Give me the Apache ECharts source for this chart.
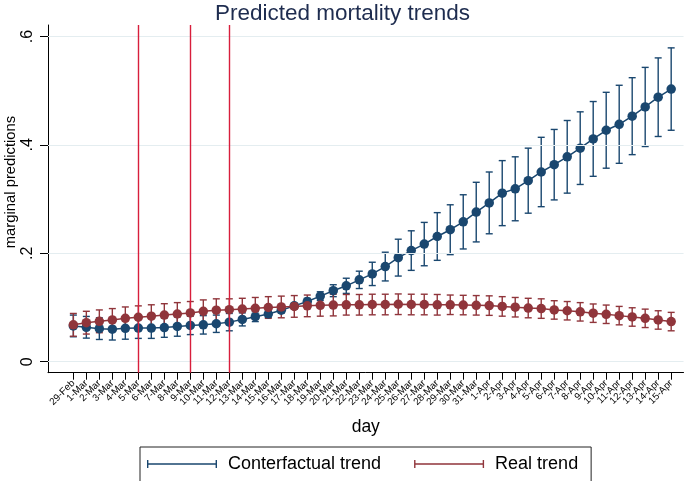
<!DOCTYPE html>
<html>
<head>
<meta charset="utf-8">
<script src="https://cdn.jsdelivr.net/npm/echarts@6/dist/echarts.min.js"></script>
<style>html,body{margin:0;padding:0;background:#fff}#c{width:685px;height:481px}</style>
</head>
<body>
<div id="c"></div>
<script>
const days = ['29-Feb','1-Mar','2-Mar','3-Mar','4-Mar','5-Mar','6-Mar','7-Mar','8-Mar','9-Mar','10-Mar','11-Mar','12-Mar','13-Mar','14-Mar','15-Mar','16-Mar','17-Mar','18-Mar','19-Mar','20-Mar','21-Mar','22-Mar','23-Mar','24-Mar','25-Mar','26-Mar','27-Mar','28-Mar','29-Mar','30-Mar','31-Mar','1-Apr','2-Apr','3-Apr','4-Apr','5-Apr','6-Apr','7-Apr','8-Apr','9-Apr','10-Apr','11-Apr','12-Apr','13-Apr','14-Apr','15-Apr'];

const counterTrend = [0.066,0.0635,0.061,0.060,0.0615,0.062,0.062,0.063,0.065,0.067,0.068,0.070,0.073,0.078,0.083,0.088,0.095,0.103,0.111,0.121,0.131,0.140,0.151,0.162,0.1755,0.192,0.205,0.217,0.231,0.2435,0.258,0.276,0.293,0.311,0.319,0.334,0.350,0.3635,0.378,0.394,0.411,0.427,0.438,0.453,0.470,0.488,0.503];
const counterLow = [0.046,0.0435,0.041,0.040,0.0415,0.043,0.043,0.045,0.047,0.050,0.051,0.054,0.057,0.066,0.074,0.082,0.090,0.098,0.105,0.113,0.120,0.126,0.135,0.1405,0.149,0.158,0.1685,0.177,0.187,0.1975,0.208,0.221,0.236,0.251,0.260,0.274,0.286,0.2985,0.311,0.327,0.342,0.357,0.366,0.382,0.397,0.4155,0.427];
const counterHigh = [0.086,0.0835,0.081,0.080,0.0815,0.081,0.081,0.081,0.083,0.084,0.085,0.086,0.089,0.090,0.092,0.094,0.100,0.108,0.117,0.129,0.142,0.154,0.167,0.1835,0.202,0.226,0.2415,0.257,0.275,0.2895,0.308,0.331,0.350,0.371,0.378,0.394,0.414,0.4285,0.445,0.461,0.480,0.497,0.510,0.524,0.543,0.5605,0.579];

const realTrend = [0.068,0.072,0.0745,0.077,0.080,0.082,0.084,0.086,0.088,0.090,0.093,0.095,0.096,0.097,0.0985,0.100,0.101,0.102,0.103,0.104,0.1045,0.105,0.105,0.1055,0.1055,0.106,0.1055,0.1055,0.105,0.105,0.1045,0.104,0.1035,0.102,0.1005,0.099,0.098,0.0955,0.094,0.092,0.0895,0.0875,0.085,0.0825,0.080,0.077,0.074];
const realLow = [0.047,0.051,0.0535,0.056,0.059,0.061,0.063,0.065,0.067,0.069,0.072,0.074,0.076,0.077,0.0785,0.080,0.081,0.082,0.083,0.084,0.0845,0.086,0.086,0.0865,0.0865,0.087,0.0865,0.0865,0.086,0.087,0.0865,0.086,0.0855,0.084,0.0825,0.081,0.080,0.0785,0.077,0.075,0.0725,0.0705,0.068,0.0655,0.063,0.060,0.057];
const realHigh = [0.089,0.093,0.0955,0.098,0.101,0.103,0.105,0.107,0.109,0.111,0.114,0.116,0.116,0.117,0.1185,0.120,0.121,0.122,0.123,0.124,0.1245,0.124,0.124,0.1245,0.1245,0.125,0.1245,0.1245,0.124,0.123,0.1225,0.122,0.1215,0.120,0.1185,0.117,0.116,0.1125,0.111,0.109,0.1065,0.1045,0.102,0.0995,0.097,0.094,0.091];

const policyDays = ['5-Mar','9-Mar','12-Mar'];
const yTickValues = [0, 0.2, 0.4, 0.6];
const yTickLabels = ['0', '.2', '.4', '.6'];

const BLUE = '#1a476f', RED = '#90353b', XLINE = '#d81e3c', GRID = '#e4edf0';
const FONT = 'Liberation Sans, Arial, sans-serif';
const X_MIN = -1.95, X_MAX = 46.95;

const idx = days.map((d, i) => i);
// empty guard labels at the axis ends so ECharts does not drop the first/last day label
const xLabelValues = [X_MIN + 0.05].concat(idx, [X_MAX - 0.05]);
function ciData(lo, hi) { return idx.map(i => [i, lo[i], hi[i]]); }
function ptData(v) { return idx.map(i => [i, v[i]]); }

function ciRender(color) {
  return function (params, api) {
    const x = api.value(0);
    const a = api.coord([x, api.value(1)]);
    const b = api.coord([x, api.value(2)]);
    const w = 3.5;
    const st = { stroke: color, lineWidth: 1.4 };
    return { type: 'group', children: [
      { type: 'line', shape: { x1: a[0], y1: a[1], x2: b[0], y2: b[1] }, style: st },
      { type: 'line', shape: { x1: a[0] - w, y1: a[1], x2: a[0] + w, y2: a[1] }, style: st },
      { type: 'line', shape: { x1: b[0] - w, y1: b[1], x2: b[0] + w, y2: b[1] }, style: st }
    ]};
  };
}

const legendIcon = 'path://M0,6.3L70,6.3L70,7.7L0,7.7Z M0,3L1.4,3L1.4,11L0,11Z M68.6,3L70,3L70,11L68.6,11Z';

const chart = echarts.init(document.getElementById('c'), null, { renderer: 'canvas' });
chart.setOption({
  animation: false,
  backgroundColor: '#ffffff',
  textStyle: { fontFamily: FONT },
  title: {
    text: 'Predicted mortality trends',
    left: 'center', top: -3,
    textStyle: { color: '#1e2c4f', fontSize: 22.5, fontWeight: 'normal', fontFamily: FONT }
  },
  grid: { left: 48, right: 0, top: 25, bottom: 108.3 },
  xAxis: {
    type: 'value', min: X_MIN, max: X_MAX,
    name: 'day', nameLocation: 'middle', nameGap: 45,
    nameTextStyle: { fontSize: 17.5, color: '#000', fontFamily: FONT },
    axisLine: { show: true, onZero: false, lineStyle: { color: '#000', width: 1 } },
    axisTick: { show: true, length: 7, customValues: idx, lineStyle: { color: '#000' } },
    axisLabel: { show: true, customValues: xLabelValues, rotate: 45, fontSize: 9.8, color: '#000', margin: 9,
      showMinLabel: true, showMaxLabel: true, hideOverlap: false,
      formatter: v => (Number.isInteger(v) ? days[v] : '') },
    splitLine: { show: false }
  },
  yAxis: {
    type: 'value', min: -0.0203, max: 0.6212,
    axisLine: { show: true, onZero: false, lineStyle: { color: '#000', width: 1 } },
    axisTick: { show: true, length: 8, customValues: yTickValues, lineStyle: { color: '#000' } },
    axisLabel: { show: true, customValues: yTickValues, rotate: 90, fontSize: 16, color: '#000', margin: 12,
      showMinLabel: true, showMaxLabel: true,
      formatter: v => yTickLabels[yTickValues.indexOf(Math.round(v * 10) / 10)] },
    splitLine: { show: false }
  },
  legend: {
    left: 140, top: 447,
    padding: [8, 13, 12, 7],
    borderColor: '#222', borderWidth: 1,
    itemWidth: 70, itemHeight: 14, itemGap: 33,
    textStyle: { fontSize: 18, color: '#000', fontFamily: FONT, padding: [0, 0, 0, 6] },
    data: [
      { name: 'Conterfactual trend', icon: legendIcon, itemStyle: { color: BLUE } },
      { name: 'Real trend', icon: legendIcon, itemStyle: { color: RED } }
    ]
  },
  graphic: [{
    type: 'text', x: 3, y: 182, rotation: Math.PI / 2,
    style: { text: 'marginal predictions', fontSize: 14.8, fill: '#000', fontFamily: FONT,
      align: 'center', verticalAlign: 'top' }
  }],
  series: [
    {
      name: 'gridlines', type: 'line', data: [], silent: true,
      markLine: { silent: true, symbol: 'none', label: { show: false },
        lineStyle: { color: GRID, type: 'solid', width: 1.2 },
        data: yTickValues.map(v => ({ yAxis: v })) }
    },
    {
      name: 'Conterfactual trend', type: 'custom', renderItem: ciRender(BLUE),
      data: ciData(counterLow, counterHigh), z: 2, silent: true,
      itemStyle: { color: BLUE },
      markLine: { silent: true, symbol: 'none', label: { show: false },
        lineStyle: { color: XLINE, type: 'solid', width: 1.4 },
        data: policyDays.map(d => ({ xAxis: days.indexOf(d) })) }
    },
    {
      name: 'Real trend', type: 'custom', renderItem: ciRender(RED),
      data: ciData(realLow, realHigh), z: 3, silent: true,
      itemStyle: { color: RED }
    },
    {
      name: 'Conterfactual trend', type: 'line', data: ptData(counterTrend), z: 4,
      symbol: 'circle', symbolSize: 9.5, showSymbol: true,
      lineStyle: { color: BLUE, width: 1.5 }, itemStyle: { color: BLUE }
    },
    {
      name: 'Real trend', type: 'line', data: ptData(realTrend), z: 5,
      symbol: 'circle', symbolSize: 9.5, showSymbol: true,
      lineStyle: { color: RED, width: 1.5 }, itemStyle: { color: RED }
    }
  ]
});
</script>
</body>
</html>
